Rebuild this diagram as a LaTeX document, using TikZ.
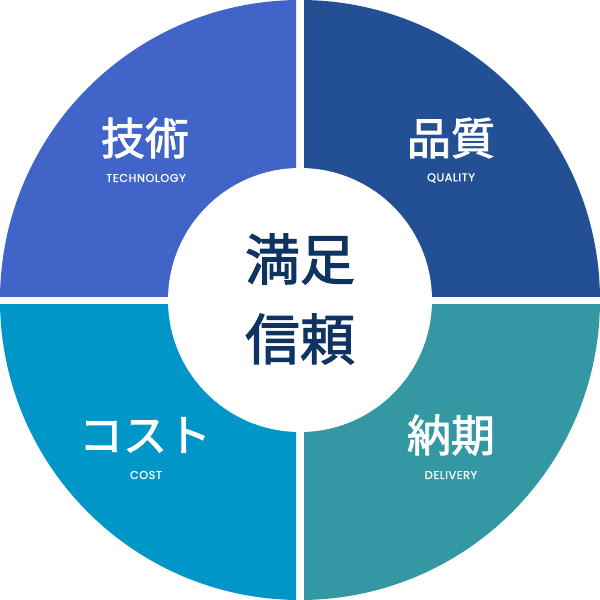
\documentclass[tikz,border=0pt]{standalone}
\usepackage{fontspec}
\setmainfont{Poppins}[FakeBold=1,LetterSpace=5]
\newfontfamily\cjk{Noto Sans CJK JP}[FakeBold=2]
\definecolor{qtl}{RGB}{65,100,200}
\definecolor{qtr}{RGB}{35,80,148}
\definecolor{qbl}{RGB}{0,150,200}
\definecolor{qbr}{RGB}{52,152,163}
\definecolor{navy}{RGB}{15,52,98}
\begin{document}
\begin{tikzpicture}[x=1pt,y=-1pt,
  bigl/.style={text=white,font=\cjk\fontsize{44}{44}\selectfont,inner sep=0pt},
  smalll/.style={text=white,font=\fontsize{11.3}{12}\selectfont,inner sep=0pt},
  centl/.style={text=navy,font=\cjk\fontsize{55}{55}\selectfont,inner sep=0pt}]
\useasboundingbox (0,0) rectangle (600,600);
\begin{scope}\clip (0,0) rectangle (296,296); \fill[qtl] (300,300) circle[radius=300]; \end{scope}
\begin{scope}\clip (304,0) rectangle (600,296); \fill[qtr] (300,300) circle[radius=300]; \end{scope}
\begin{scope}\clip (0,304) rectangle (296,600); \fill[qbl] (300,300) circle[radius=300]; \end{scope}
\begin{scope}\clip (304,304) rectangle (600,600); \fill[qbr] (300,300) circle[radius=300]; \end{scope}
\fill[white] (300,300) circle[radius=132];
\node[bigl] (t1) at (145,138) {技術};
\node[smalll] (s1) at (146,178) {TECHNOLOGY};
\node[bigl] (t2) at (451,138) {品質};
\node[smalll] (s2) at (451,178) {QUALITY};
\node[bigl] (t3) at (145,435) {コスト};
\node[smalll] (s3) at (146,475) {COST};
\node[bigl] (t4) at (451,435) {納期};
\node[smalll] (s4) at (451,475) {DELIVERY};
\node[centl] (c1) at (300,259) {満足};
\node[centl] (c2) at (300,339) {信頼};
\end{tikzpicture}
\end{document}
